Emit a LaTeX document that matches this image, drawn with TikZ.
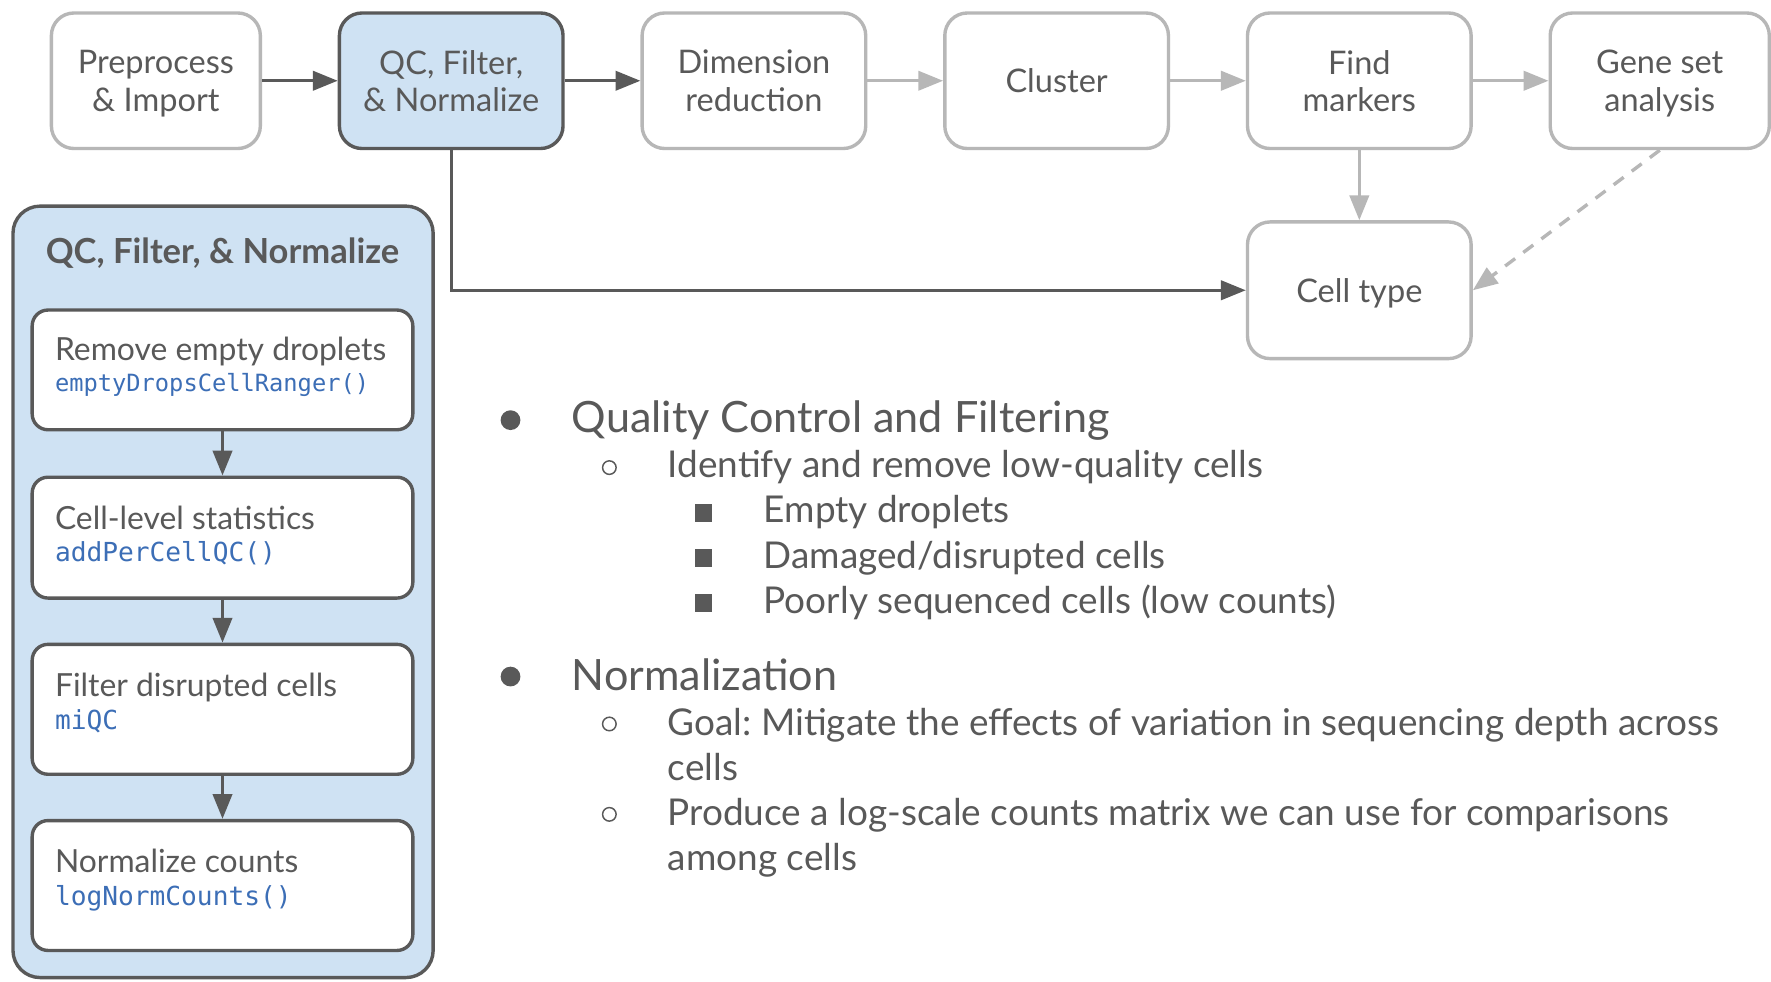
\documentclass[tikz,border=0pt]{standalone}
\usepackage{fontspec}
\setmainfont{Lato}
\newfontfamily\codefont{DejaVu Sans Mono}
\usetikzlibrary{arrows.meta,calc}
\frenchspacing
\definecolor{ink}{HTML}{595959}
\definecolor{lite}{HTML}{B7B7B7}
\definecolor{paleblue}{HTML}{CFE2F3}
\definecolor{codeblue}{HTML}{3C6EB6}
\tikzset{
 flowbox/.style={draw=lite, line width=3pt, rounded corners=20pt, fill=white, minimum width=198pt, minimum height=120pt, align=center, text=ink, inner sep=0pt, text depth=0pt, font=\fontsize{28.8}{33}\selectfont},
 activebox/.style={flowbox, draw=ink, fill=paleblue},
 arrowtip/.style={-{Triangle[length=22pt,width=17pt]}},
 darkarrow/.style={draw=ink, line width=3pt, arrowtip},
 litearrow/.style={draw=lite, line width=3pt, arrowtip},
 panelbox/.style={draw=ink, fill=paleblue, line width=3pt, rounded corners=24pt, inner sep=0pt},
 stepbox/.style={draw=ink, fill=white, line width=3pt, rounded corners=14pt, minimum width=337pt, inner sep=0pt},
 steptext/.style={anchor=base west, inner sep=0pt, text=ink, font=\fontsize{28.2}{32}\selectfont},
 codetext/.style={anchor=base west, inner sep=0pt, text=codeblue, font=\codefont\fontsize{23.2}{27}\selectfont},
 lvlone/.style={anchor=base west, inner sep=0pt, text=ink, font=\fontsize{38.2}{46}\selectfont},
 lvltwo/.style={anchor=base west, inner sep=0pt, text=ink, font=\fontsize{32.7}{40}\selectfont},
 dotbullet/.style={circle, fill=ink, inner sep=0pt, minimum size=17.5pt},
 ringbullet/.style={circle, draw=ink, line width=1.3pt, inner sep=0pt, minimum size=12pt},
 squarebullet/.style={rectangle, fill=ink, inner sep=0pt, minimum size=15.5pt},
}
\begin{document}
\begin{tikzpicture}[x=1pt,y=-1pt]
\useasboundingbox (0,0) rectangle (1568,869);
\clip (0,0) rectangle (1568,869);
\fill[white] (0,0) rectangle (1568,869);

% top flow
\node[flowbox, minimum width=185pt] (pre) at (138,71.5) {Preprocess\\\& Import};
\node[activebox] (qc) at (399.5,71.5) {QC, Filter,\\\& Normalize};
\node[flowbox] (dim) at (667.5,71.5) {Dimension\\reduction};
\node[flowbox] (clu) at (935.5,71.5) {Cluster};
\node[flowbox] (fm) at (1203.5,71.5) {Find\\markers};
\node[flowbox, minimum width=194pt] (gsa) at (1469.5,71.5) {Gene set\\analysis};
\node[flowbox, minimum height=121pt] (ct) at (1203.5,257) {Cell type};

\draw[darkarrow] (pre) -- (qc);
\draw[darkarrow] (qc) -- (dim);
\draw[litearrow] (dim) -- (clu);
\draw[litearrow] (clu) -- (fm);
\draw[litearrow] (fm) -- (gsa);
\draw[litearrow] (fm) -- (ct);
\draw[litearrow, dash pattern=on 11pt off 9pt] (gsa.south) -- (ct.east);
\draw[darkarrow] (qc.south) |- (ct.west);

% left panel
\node[panelbox, minimum width=372pt, minimum height=683pt] (panel) at (197.5,524) {};
\node[anchor=base, inner sep=0pt, text=ink, font=\bfseries\fontsize{30.6}{35}\selectfont] (ptitle) at (197,233.7) {QC, Filter, \& Normalize};

\node[stepbox, minimum height=106pt] (b1) at (197,327.5) {};
\node[stepbox, minimum height=107pt] (b2) at (197,476) {};
\node[stepbox, minimum height=115pt] (b3) at (197,628) {};
\node[stepbox, minimum height=115pt] (b4) at (197,784) {};

\node[steptext] (t1) at (48.5,319.5) {Remove empty droplets};
\node[codetext, font=\codefont\fontsize{21}{25}\selectfont] (c1) at (48.5,347) {emptyDropsCellRanger()};
\node[steptext] (t2) at (48.5,468.5) {Cell-level statistics};
\node[codetext] (c2) at (48.5,497.5) {addPerCellQC()};
\node[steptext] (t3) at (48.5,616.5) {Filter disrupted cells};
\node[codetext] (c3) at (48.5,646) {miQC};
\node[steptext] (t4) at (48.5,772.5) {Normalize counts};
\node[codetext] (c4) at (48.5,801.5) {logNormCounts()};

\draw[darkarrow] (b1) -- (b2);
\draw[darkarrow] (b2) -- (b3);
\draw[darkarrow] (b3) -- (b4);

% bullet list
\node[dotbullet] (d1) at (452,372) {};
\node[lvlone] (l1) at (506,383) {Quality Control and Filtering};
\node[ringbullet] (r1) at (539.5,414) {};
\node[lvltwo] (l2) at (591,423) {Identify and remove low-quality cells};
\node[squarebullet] (s1) at (623,454) {};
\node[lvltwo] (l3) at (676,463) {Empty droplets};
\node[squarebullet] (s2) at (623,494) {};
\node[lvltwo] (l4) at (676,503) {Damaged/disrupted cells};
\node[squarebullet] (s3) at (623,534) {};
\node[lvltwo] (l5) at (676,543) {Poorly sequenced cells (low counts)};

\node[dotbullet] (d2) at (452,599) {};
\node[lvlone] (l6) at (506,611.5) {Normalization};
\node[ringbullet] (r2) at (539.5,641) {};
\node[lvltwo] (l7) at (591,651) {Goal: Mitigate the effects of variation in sequencing depth across};
\node[lvltwo] (l8) at (591,691) {cells};
\node[ringbullet] (r3) at (539.5,721) {};
\node[lvltwo] (l9) at (591,731) {Produce a log-scale counts matrix we can use for comparisons};
\node[lvltwo] (l10) at (591,771) {among cells};
\end{tikzpicture}
\end{document}
